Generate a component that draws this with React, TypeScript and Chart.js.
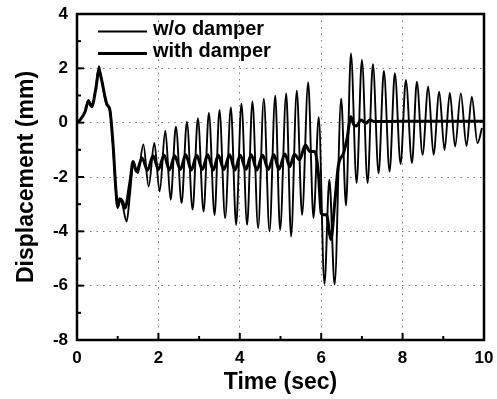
import React, { useEffect, useRef } from "react";
import { Chart, registerables } from "chart.js";
Chart.register(...registerables);

// ---- data ----
const seriesLabels = ["w/o damper", "with damper"];

const woTime = [
  0.0, 0.1, 0.2, 0.28, 0.36, 0.46, 0.54, 0.6, 0.73, 0.81, 0.89, 0.95, 1.0, 1.06, 1.12, 1.22, 1.3, 1.38, 1.5,
  1.63, 1.76, 1.9, 2.03, 2.17, 2.3, 2.43, 2.57, 2.7, 2.84, 2.97, 3.11, 3.24, 3.38, 3.5, 3.64, 3.78, 3.91,
  4.04, 4.18, 4.31, 4.45, 4.59, 4.73, 4.87, 4.99, 5.14, 5.26, 5.4, 5.53, 5.68, 5.81, 5.94, 6.08, 6.2, 6.33,
  6.49, 6.61, 6.73, 6.87, 7.0, 7.14, 7.27, 7.41, 7.54, 7.68, 7.81, 7.95, 8.08, 8.23, 8.35, 8.49, 8.63, 8.76,
  8.9, 9.03, 9.16, 9.29, 9.43, 9.57, 9.7, 9.84, 9.95,
];
const woDisp = [
  0.0, 0.15, 0.41, 0.84, 0.59, 1.27, 2.08, 1.63, 0.65, 0.47, -0.94, -2.41, -3.14, -2.85, -3.05, -3.64, -2.65, -1.55, -1.85,
  -0.8, -2.35, -0.75, -2.53, -0.3, -2.84, -0.15, -2.96, 0.04, -3.2, 0.16, -3.27, 0.36, -3.4, 0.46, -3.51, 0.56, -3.76,
  0.7, -3.76, 0.78, -3.88, 0.87, -4.0, 0.99, -3.95, 1.08, -4.19, 1.18, -3.39, 1.48, -3.51, 0.2, -5.94, -2.1, -5.96,
  0.88, -3.05, 2.55, -2.22, 2.31, -2.22, 2.15, -1.86, 1.9, -1.8, 1.82, -1.52, 1.57, -1.49, 1.51, -1.18, 1.33, -1.18,
  1.14, -1.01, 1.1, -0.88, 1.08, -0.86, 0.96, -0.75, -0.2,
];

const wTime = [
  0.0, 0.1, 0.2, 0.28, 0.36, 0.46, 0.54, 0.6, 0.73, 0.81, 0.89, 0.95, 1.0, 1.05, 1.12, 1.18, 1.3, 1.38, 1.46,
  1.6, 1.73, 1.87, 2.0, 2.14, 2.27, 2.4, 2.54, 2.67, 2.81, 2.94, 3.08, 3.21, 3.35, 3.47, 3.61, 3.75, 3.88,
  4.01, 4.15, 4.28, 4.42, 4.56, 4.7, 4.84, 4.96, 5.11, 5.23, 5.34, 5.47, 5.61, 5.72, 5.84, 5.93, 6.0, 6.05,
  6.13, 6.24, 6.33, 6.42, 6.55, 6.63, 6.73, 6.8, 6.86, 6.98, 7.1, 7.2, 7.3, 8.0, 9.0, 10.0,
];
const wDisp = [
  0.0, 0.15, 0.41, 0.8, 0.59, 1.22, 1.92, 1.6, 0.7, 0.45, -0.9, -2.35, -3.1, -2.8, -2.9, -3.14, -2.2, -1.43, -1.8,
  -1.3, -1.75, -1.22, -1.72, -1.2, -1.74, -1.22, -1.72, -1.18, -1.74, -1.2, -1.72, -1.18, -1.74, -1.2, -1.72, -1.18, -1.75,
  -1.2, -1.72, -1.18, -1.74, -1.2, -1.72, -1.18, -1.72, -1.15, -1.62, -1.16, -1.37, -0.82, -1.06, -1.06, -1.86, -3.33, -3.39,
  -3.39, -4.3, -3.0, -1.6, -1.12, -0.63, 0.22, -0.08, -0.12, 0.1, -0.02, 0.1, 0.04, 0.05, 0.05, 0.05,
];

const xMajor = [0, 2, 4, 6, 8, 10];
const yMajor = [-8, -6, -4, -2, 0, 2, 4];

const FONT = "'Liberation Sans', Arial, Helvetica, sans-serif";

export default function App() {
  const ref = useRef<HTMLCanvasElement>(null);

  useEffect(() => {
    if (!ref.current) return;
    const toPts = (ts: number[], vs: number[]) => ts.map((t, i) => ({ x: t, y: vs[i] }));

    const framePlugin = {
      id: "frame",
      afterDatasetsDraw(chart: any) {
        const { ctx, chartArea: a, scales } = chart;
        const xs = scales.x;
        const ys = scales.y;
        ctx.save();
        ctx.strokeStyle = "#000";
        ctx.lineWidth = 2;
        xs.ticks.forEach((t: any) => {
          const px = xs.getPixelForValue(t.value);
          const len = xMajor.includes(t.value) ? 7 : 4;
          ctx.beginPath();
          ctx.moveTo(px, a.bottom);
          ctx.lineTo(px, a.bottom - len);
          ctx.stroke();
        });
        ys.ticks.forEach((t: any) => {
          const py = ys.getPixelForValue(t.value);
          const len = yMajor.includes(t.value) ? 7 : 4;
          ctx.beginPath();
          ctx.moveTo(a.left, py);
          ctx.lineTo(a.left + len, py);
          ctx.stroke();
        });
        ctx.lineWidth = 2.5;
        ctx.strokeRect(a.left, a.top, a.right - a.left, a.bottom - a.top);

        // legend inside the plot, top-left
        const ds = chart.data.datasets;
        const rows = [
          { lineY: a.top + 17.5, textY: a.top + 21 },
          { lineY: a.top + 39.5, textY: a.top + 43 },
        ];
        ds.forEach((d: any, i: number) => {
          const r = rows[i];
          ctx.strokeStyle = d.borderColor;
          ctx.lineWidth = d.borderWidth;
          ctx.beginPath();
          ctx.moveTo(a.left + 21, r.lineY);
          ctx.lineTo(a.left + 70, r.lineY);
          ctx.stroke();
          ctx.fillStyle = "#000";
          ctx.font = `bold 20px ${FONT}`;
          ctx.textBaseline = "alphabetic";
          ctx.textAlign = "left";
          ctx.fillText(d.label, a.left + 76, r.textY);
        });
        ctx.restore();
      },
    };

    const noPad = (s: any) => {
      s.paddingTop = 0;
      s.paddingBottom = 0;
      s.paddingLeft = 0;
      s.paddingRight = 0;
    };

    const chart = new Chart(ref.current, {
      type: "line",
      data: {
        datasets: [
          {
            label: seriesLabels[0],
            data: toPts(woTime, woDisp),
            borderColor: "#000",
            borderWidth: 1.9,
            pointRadius: 0,
            cubicInterpolationMode: "monotone",
            fill: false,
          },
          {
            label: seriesLabels[1],
            data: toPts(wTime, wDisp),
            borderColor: "#000",
            borderWidth: 3,
            pointRadius: 0,
            cubicInterpolationMode: "monotone",
            fill: false,
          },
        ],
      },
      options: {
        animation: false,
        responsive: true,
        maintainAspectRatio: false,
        layout: { padding: { top: 14, right: 13, left: 0, bottom: 0 } },
        plugins: { legend: { display: false }, tooltip: { enabled: false } },
        scales: {
          x: {
            type: "linear",
            min: 0,
            max: 10,
            afterFit: (s: any) => {
              s.height = 59;
              noPad(s);
            },
            ticks: {
              stepSize: 1,
              autoSkip: false,
              maxRotation: 0,
              padding: 8,
              color: "#000",
              font: { family: FONT, size: 17, weight: "bold" },
              callback: (v: any) => (xMajor.includes(Number(v)) ? String(v) : ""),
            },
            grid: {
              drawTicks: false,
              color: (c: any) =>
                c.tick && xMajor.includes(c.tick.value) && c.tick.value !== 0 && c.tick.value !== 10
                  ? "rgba(90,90,90,0.8)"
                  : "rgba(0,0,0,0)",
              lineWidth: 1,
            },
            border: { display: false, dash: [1.5, 5] },
            title: {
              display: true,
              text: "Time (sec)",
              color: "#000",
              font: { family: FONT, size: 23, weight: "bold" },
              padding: { top: 0, bottom: 3 },
            },
          },
          y: {
            type: "linear",
            min: -8,
            max: 4,
            afterFit: (s: any) => {
              s.width = 77;
              noPad(s);
            },
            ticks: {
              stepSize: 1,
              autoSkip: false,
              padding: 9,
              color: "#000",
              font: { family: FONT, size: 17, weight: "bold" },
              callback: (v: any) => (yMajor.includes(Number(v)) ? String(v) : ""),
            },
            grid: {
              drawTicks: false,
              color: (c: any) =>
                c.tick && yMajor.includes(c.tick.value) && c.tick.value !== -8 && c.tick.value !== 4
                  ? "rgba(90,90,90,0.8)"
                  : "rgba(0,0,0,0)",
              lineWidth: 1,
            },
            border: { display: false, dash: [1.5, 5] },
            title: {
              display: true,
              text: "Displacement (mm)",
              color: "#000",
              font: { family: FONT, size: 23, weight: "bold" },
              padding: { top: 13, bottom: 0 },
            },
          },
        },
      },
      plugins: [framePlugin],
    });
    return () => chart.destroy();
  }, []);

  return (
    <div style={{ position: "fixed", left: 0, top: 0, width: 497, height: 399, background: "#fff" }}>
      <canvas ref={ref} />
    </div>
  );
}
